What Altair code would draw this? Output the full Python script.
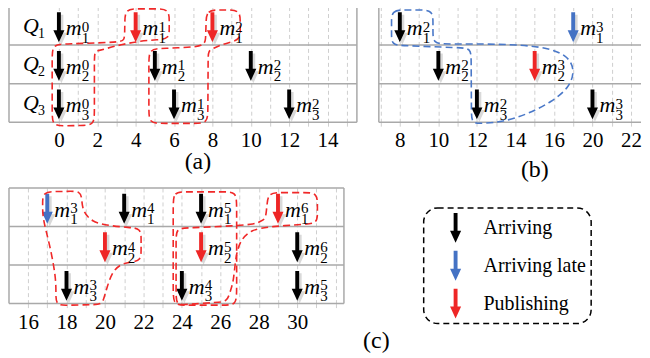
import math
import altair as alt
import pandas as pd

# ---------------- data ----------------
KINDS = ["Arriving", "Arriving late", "Publishing"]
KIND_COLORS = ["#000000", "#4472c4", "#ee2626"]

# panel (a)
A_TIME = [0, 4, 8, 0, 5, 10, 0, 6, 12]
A_QUEUE = [1, 1, 1, 2, 2, 2, 3, 3, 3]
A_SEQ = [0, 1, 2, 0, 1, 2, 0, 1, 2]
A_KIND = ["Arriving", "Publishing", "Publishing",
          "Arriving", "Arriving", "Arriving",
          "Arriving", "Arriving", "Arriving"]

# panel (b)
B_TIME = [8, 17, 10, 15, 12, 18]
B_QUEUE = [1, 1, 2, 2, 3, 3]
B_SEQ = [2, 3, 2, 3, 2, 3]
B_KIND = ["Arriving", "Arriving late", "Arriving", "Publishing", "Arriving", "Arriving"]

# panel (c)
C_TIME = [17, 21, 25, 29, 20, 25, 30, 18, 24, 30]
C_QUEUE = [1, 1, 1, 1, 2, 2, 2, 3, 3, 3]
C_SEQ = [3, 4, 5, 6, 4, 5, 6, 3, 4, 5]
C_KIND = ["Arriving late", "Arriving", "Arriving", "Publishing",
          "Publishing", "Publishing", "Arriving",
          "Arriving", "Arriving", "Arriving"]

QUEUES = [1, 2, 3]
ROW_LINES = [0, 1, 2, 3]

# axes
A_XDOM = [-2.6, 15.53]
B_XDOM = [6.91, 20.52]
C_XDOM = [15.01, 32.43]
A_GRID = list(range(0, 16))
B_GRID = list(range(7, 21))
C_GRID = list(range(15, 33))
A_TICK_VALUES = [0, 2, 4, 6, 8, 10, 12, 14]
A_TICK_LABELS = ["0", "2", "4", "6", "8", "10", "12", "14"]
B_TICK_VALUES = [8, 10, 12, 14, 16, 18, 20]
B_TICK_LABELS = ["8", "10", "12", "14", "16", "20", "22"]
C_TICK_VALUES = [16, 18, 20, 22, 24, 26, 28, 30]
C_TICK_LABELS = ["16", "18", "20", "22", "24", "26", "28", "30"]

# grouping outlines (time, row-from-top, corner radius px)
A_BLOBS = [
    [(3.45, 0.06, 14), (5.75, 0.06, 14), (5.75, 0.84, 12), (4.3, 0.89, 0), (3.2, 0.99, 0),
     (2.4, 1.1, 0), (1.85, 1.17, 10), (1.85, 3.08, 14), (-0.35, 3.1, 14), (-0.35, 0.98, 14),
     (2.9, 0.93, 0), (3.42, 0.88, 10)],
    [(7.69, 0.09, 14), (9.45, 0.09, 14), (9.45, 0.85, 12), (8.4, 1.0, 0), (7.78, 1.15, 8),
     (7.76, 3.03, 14), (4.69, 3.03, 14), (4.69, 1.1, 14), (7.3, 1.05, 0), (7.64, 0.92, 8)],
]
B_BLOBS = [
    [(7.57, 0.09, 14), (9.72, 0.09, 14), (9.72, 0.97, 14), (13.2, 0.97, 0), (15.4, 1.03, 0),
     (16.7, 1.25, 0), (17.1, 1.65, 0), (16.8, 2.1, 0), (15.9, 2.47, 0), (14.6, 2.8, 0),
     (13.3, 3.0, 0), (11.72, 3.04, 12), (11.7, 1.08, 12), (7.57, 1.0, 12)],
]
C_BLOBS = [
    [(16.76, 0.1, 14), (18.75, 0.08, 14), (18.85, 0.6, 0), (19.3, 0.88, 0), (20.2, 0.98, 0),
     (21.88, 1.05, 12), (21.88, 1.88, 12), (20.8, 1.97, 0), (20.35, 2.2, 0), (20.1, 2.6, 0),
     (19.85, 3.02, 10), (17.45, 3.05, 12), (17.45, 2.3, 0), (17.1, 1.4, 0), (16.76, 0.8, 0)],
    [(23.55, 0.1, 14), (26.85, 0.1, 14), (26.85, 3.04, 14), (23.55, 3.04, 14)],
    [(28.5, 0.12, 14), (31.05, 0.12, 14), (31.05, 0.92, 12), (28.6, 1.0, 0), (27.6, 1.08, 0),
     (27.05, 1.35, 0), (26.8, 1.75, 0), (26.7, 2.4, 0), (26.35, 2.95, 10), (23.7, 3.04, 12),
     (23.7, 1.05, 12), (26.8, 0.98, 0), (27.8, 0.94, 0), (28.35, 0.8, 8)],
]

# ---------------- style ----------------
FONT = "Liberation Serif"
FRAME = "#a9a9a9"
GRID = "#cfcfcf"
RED_DASH = "#f02828"
BLUE_DASH = "#4a78c8"
ARROW = "M-0.13,-1L0.13,-1L0.13,0.2L0.37,0.2L0,1L-0.37,0.2L-0.13,0.2Z"

COLOR_SCALE = alt.Scale(domain=KINDS, range=KIND_COLORS)
LEGEND = alt.Legend(
    title=None, orient="none", legendX=416, legendY=202,
    symbolType=ARROW, symbolSize=900, symbolStrokeWidth=0, symbolOffset=12,
    labelOffset=13, labelFont=FONT, labelFontSize=20, labelColor="black",
    rowPadding=8, padding=5, strokeColor="black", cornerRadius=14,
    labelExpr="datum.label + '\u00a0\u00a0\u00a0'",
)


def label_expr(vals, labels):
    expr = "''"
    for v, l in reversed(list(zip(vals, labels))):
        expr = f"datum.value == {v} ? '{l}' : ({expr})"
    return expr


def round_outline(pts, sx, sy):
    out = []
    n = len(pts)
    for i, p in enumerate(pts):
        x, y, r = p
        if r <= 0:
            out.append((x, y))
            continue

        def toward(q):
            dx = (q[0] - x) * sx
            dy = (q[1] - y) * sy
            d = math.hypot(dx, dy)
            k = min(r, d * 0.45) / d
            return (x + (q[0] - x) * k, y + (q[1] - y) * k)

        out += [toward(pts[i - 1]), (x, y), toward(pts[(i + 1) % n])]
    return out


def panel(time, queue, seq, kind, blobs, blob_color, xdom, width, height, grid,
          tick_vals, tick_labels, title, title_x, title_y, qlabels=False, right_border=True):
    df = pd.DataFrame({"t": time, "q": queue, "seq": seq, "kind": kind})
    df["yc"] = df["q"] - 0.5
    df["sub"] = df["q"].astype(str)
    df["sup"] = df["seq"].astype(str)

    sx = width / (xdom[1] - xdom[0])
    sy = height / 3.0
    rows = []
    for bi, b in enumerate(blobs):
        for oi, (x, y) in enumerate(round_outline(b, sx, sy)):
            rows.append({"t": x, "yc": y, "blob": bi, "ord": oi})
    bdf = pd.DataFrame(rows)

    X = alt.X("t:Q", scale=alt.Scale(domain=xdom, nice=False, zero=False),
              axis=alt.Axis(values=grid, grid=True, gridColor=GRID, gridDash=[4, 3], gridWidth=1,
                            ticks=True, tickSize=5, tickColor=GRID, tickDash=[4, 3], domain=False,
                            labelExpr=label_expr(tick_vals, tick_labels), labelFont=FONT,
                            labelFontSize=21, labelColor="black", labelPadding=2.5,
                            labelOverlap=False, labelFlush=False,
                            title=title, titleFont=FONT, titleFontSize=24, titleFontWeight="normal",
                            titleColor="black", titleX=title_x, titleY=title_y,
                            titleAlign="center", titleBaseline="middle"))
    Y = alt.Y("yc:Q", scale=alt.Scale(domain=[0, 3], reverse=True, nice=False, zero=False), axis=None)

    base = alt.Chart(df)
    hlines = alt.Chart(pd.DataFrame({"yc": ROW_LINES})).mark_rule(color=FRAME, strokeWidth=1.5).encode(y=Y)
    borders = [xdom[0], xdom[1]] if right_border else [xdom[0]]
    vlines = alt.Chart(pd.DataFrame({"t": borders})).mark_rule(color=FRAME, strokeWidth=1.5).encode(x=X)
    outlines = alt.Chart(bdf).mark_line(interpolate="basis-closed", strokeDash=[7, 4], strokeWidth=1.6,
                                        color=blob_color, clip=False).encode(
        x=X, y=Y, detail="blob:N", order="ord:Q")
    shadow = base.mark_point(shape=ARROW, size=900, filled=True, color="#808080", opacity=0.3,
                             strokeWidth=0, xOffset=2.5, yOffset=4).encode(x=X, y=Y)
    arrows = base.mark_point(shape=ARROW, size=900, filled=True, opacity=1, strokeWidth=0,
                             yOffset=1.5).encode(
        x=X, y=Y, color=alt.Color("kind:N", scale=COLOR_SCALE, legend=LEGEND))
    m_txt = base.mark_text(align="left", baseline="alphabetic", dx=7, dy=9.5, font=FONT,
                           fontStyle="italic", fontSize=22, color="black").encode(
        x=X, y=Y, text=alt.value("m"))
    sup_txt = base.mark_text(align="left", baseline="middle", dx=23, dy=1, font=FONT,
                             fontSize=15, color="black").encode(x=X, y=Y, text="sup:N")
    sub_txt = base.mark_text(align="left", baseline="middle", dx=23, dy=12, font=FONT,
                             fontSize=15, color="black").encode(x=X, y=Y, text="sub:N")
    layers = [hlines, vlines, shadow, arrows, outlines, m_txt, sup_txt, sub_txt]
    if qlabels:
        qdf = pd.DataFrame({"q": QUEUES})
        qdf["yc"] = qdf["q"] - 0.5
        qdf["t"] = xdom[0] + 0.73
        qdf["sub"] = qdf["q"].astype(str)
        qbase = alt.Chart(qdf)
        layers.append(qbase.mark_text(align="left", baseline="alphabetic", dy=7, font=FONT,
                                      fontStyle="italic", fontSize=22, color="black").encode(
            x=X, y=Y, text=alt.value("Q")))
        layers.append(qbase.mark_text(align="left", baseline="middle", dx=15, dy=8, font=FONT,
                                      fontSize=14, color="black").encode(x=X, y=Y, text="sub:N"))
    return alt.layer(*layers).properties(width=width, height=height)


pa = panel(A_TIME, A_QUEUE, A_SEQ, A_KIND, A_BLOBS, RED_DASH, A_XDOM, 349, 116, A_GRID,
           A_TICK_VALUES, A_TICK_LABELS, "(a)", 189, 39, qlabels=True)
pb = panel(B_TIME, B_QUEUE, B_SEQ, B_KIND, B_BLOBS, BLUE_DASH, B_XDOM, 263, 116, B_GRID,
           B_TICK_VALUES, B_TICK_LABELS, "(b)", 156, 47, right_border=False)
pc = panel(C_TIME, C_QUEUE, C_SEQ, C_KIND, C_BLOBS, RED_DASH, C_XDOM, 336, 116, C_GRID,
           C_TICK_VALUES, C_TICK_LABELS, "(c)", 368, 37)

chart = alt.concat(pa, pb, pc, columns=2, spacing={"row": 66, "column": 22},
                   bounds="flush", align="each").properties(
    padding={"top": -3, "left": 0, "right": 0, "bottom": 0}).configure_view(
    strokeWidth=0).configure_legend(strokeDash=[6, 4], strokeWidth=1.5)

chart.save("out.html", embed_options={"renderer": "svg", "actions": False})
